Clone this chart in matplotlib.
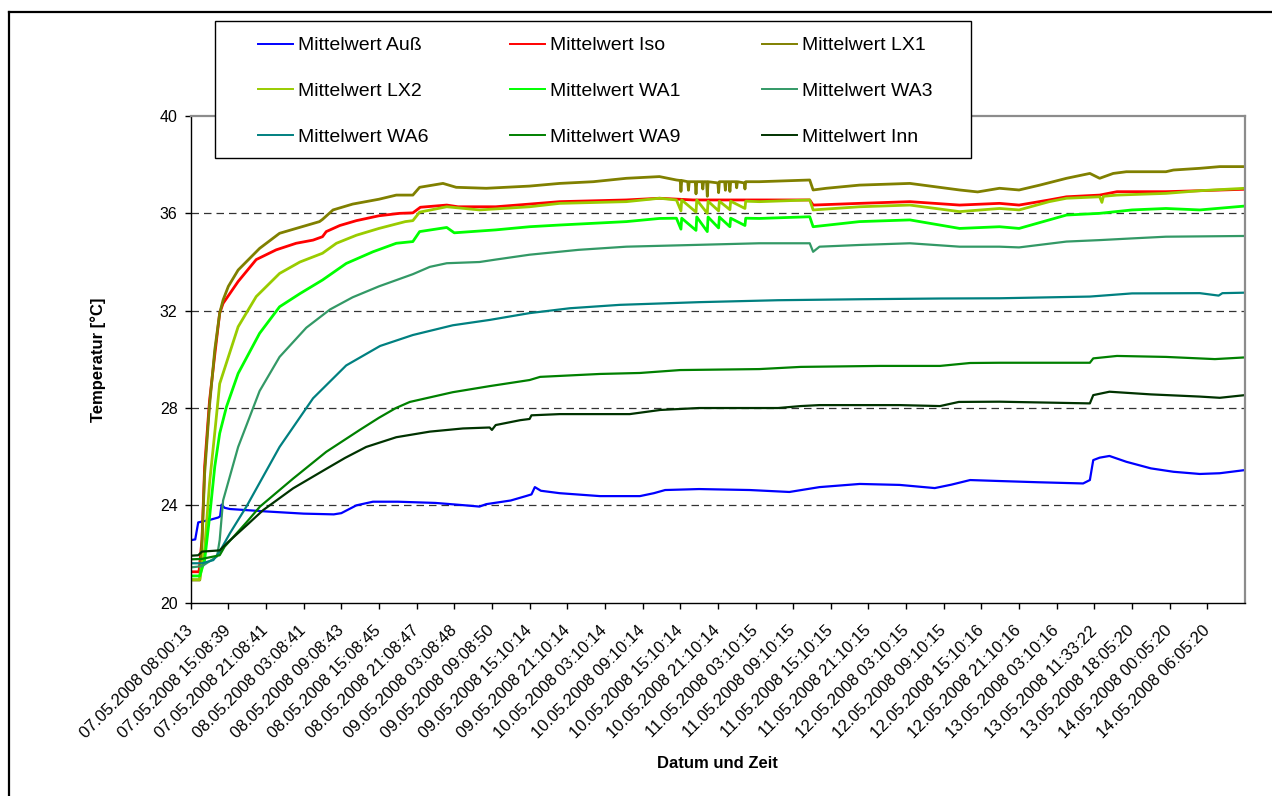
import matplotlib
matplotlib.use("Agg")
import matplotlib.pyplot as plt
from matplotlib.lines import Line2D
from matplotlib.patches import Rectangle
from matplotlib.transforms import ScaledTranslation

plt.rcParams['font.family'] = ['Liberation Sans', 'DejaVu Sans']

# Category axis: one tick per logged sample row label
tick_labels = [
    "07.05.2008 08:00:13", "07.05.2008 15:08:39", "07.05.2008 21:08:41",
    "08.05.2008 03:08:41", "08.05.2008 09:08:43", "08.05.2008 15:08:45",
    "08.05.2008 21:08:47", "09.05.2008 03:08:48", "09.05.2008 09:08:50",
    "09.05.2008 15:10:14", "09.05.2008 21:10:14", "10.05.2008 03:10:14",
    "10.05.2008 09:10:14", "10.05.2008 15:10:14", "10.05.2008 21:10:14",
    "11.05.2008 03:10:15", "11.05.2008 09:10:15", "11.05.2008 15:10:15",
    "11.05.2008 21:10:15", "12.05.2008 03:10:15", "12.05.2008 09:10:15",
    "12.05.2008 15:10:16", "12.05.2008 21:10:16", "13.05.2008 03:10:16",
    "13.05.2008 11:33:22", "13.05.2008 18:05:20", "14.05.2008 00:05:20",
    "14.05.2008 06:05:20",
]

# Mean temperatures [°C]; x in units of label intervals
aus_x = [0, 0.12, 0.2, 0.5, 0.73, 0.78, 0.82, 0.9, 1.04, 2.0, 3.0, 3.8, 4.0, 4.4, 4.84,
         5.5, 6.5, 7.3, 7.67, 7.85, 8.5, 8.9, 9.05, 9.14, 9.3, 9.8, 10.87, 11.93, 12.3,
         12.6, 13.5, 14.85, 15.9, 16.3, 16.7, 17.77, 18.83, 19.76, 20.2, 20.7, 21.48,
         22.5, 23.7, 23.88, 23.93, 23.97, 24.14, 24.4, 24.85, 25.5, 26.1, 26.8, 27.33, 28]
aus_y = [22.57, 22.6, 23.3, 23.4, 23.5, 23.55, 24.03, 23.9, 23.85, 23.75, 23.66, 23.63,
         23.68, 24.0, 24.15, 24.15, 24.1, 24.0, 23.95, 24.05, 24.2, 24.38, 24.45, 24.75,
         24.6, 24.5, 24.38, 24.38, 24.5, 24.63, 24.67, 24.63, 24.55, 24.65, 24.75, 24.88,
         24.84, 24.71, 24.85, 25.04, 25.0, 24.95, 24.9, 25.04, 25.5, 25.86, 25.96, 26.03,
         25.79, 25.52, 25.38, 25.29, 25.32, 25.45]

iso_x = [0, 0.22, 0.3, 0.37, 0.5, 0.64, 0.77, 0.86, 1.26, 1.74, 2.27, 2.8, 3.25, 3.5, 3.6,
         3.96, 4.4, 5.0, 5.55, 5.9, 6.1, 6.8, 7.1, 8.1, 9.0, 9.8, 11.57, 12.45, 13.34, 15.1,
         16.44, 16.53, 17.76, 19.1, 20.42, 21.48, 22.0, 22.8, 23.26, 24.14, 24.6, 25.9,
         26.8, 28]
iso_y = [21.27, 21.27, 22.6, 25.6, 28.3, 30.2, 31.9, 32.3, 33.2, 34.1, 34.5, 34.77, 34.9,
         35.04, 35.25, 35.5, 35.7, 35.9, 36.0, 36.02, 36.25, 36.34, 36.27, 36.27, 36.38,
         36.48, 36.55, 36.62, 36.55, 36.55, 36.55, 36.34, 36.41, 36.48, 36.34, 36.41,
         36.34, 36.55, 36.68, 36.75, 36.89, 36.89, 36.93, 36.99]

lx1_x = [0, 0.24, 0.3, 0.37, 0.5, 0.64, 0.77, 0.86, 1.0, 1.26, 1.83, 2.36, 2.8, 3.42, 3.5,
         3.78, 4.3, 5.0, 5.46, 5.9, 6.08, 6.7, 7.05, 7.85, 9.0, 9.8, 10.69, 11.57, 12.45,
         12.9, 13.0, 13.02, 13.04, 13.2, 13.22, 13.24, 13.4, 13.42, 13.44, 13.58, 13.6,
         13.62, 13.7, 13.72, 13.74, 14.0, 14.02, 14.04, 14.18, 14.2, 14.22, 14.3, 14.32,
         14.34, 14.48, 14.5, 14.52, 14.7, 14.72, 14.74, 15.1, 16.44, 16.53, 16.88, 17.76,
         19.1, 20.42, 20.9, 21.48, 22.0, 22.55, 23.26, 23.88, 24.14, 24.5, 24.85, 25.9,
         26.1, 26.8, 27.33, 28]
lx1_y = [20.93, 20.93, 22.5, 25.3, 28.1, 30.4, 31.9, 32.44, 33.0, 33.67, 34.56, 35.18,
         35.38, 35.66, 35.75, 36.14, 36.38, 36.58, 36.75, 36.75, 37.07, 37.23, 37.07,
         37.03, 37.12, 37.23, 37.3, 37.44, 37.51, 37.37, 37.35, 36.9, 37.35, 37.3, 36.95,
         37.3, 37.3, 36.8, 37.3, 37.3, 37.0, 37.3, 37.3, 36.7, 37.3, 37.25, 36.85, 37.3,
         37.3, 36.95, 37.3, 37.3, 36.9, 37.3, 37.3, 37.05, 37.3, 37.25, 37.0, 37.3, 37.3,
         37.37, 36.96, 37.03, 37.16, 37.23, 36.96, 36.88, 37.03, 36.96, 37.16, 37.44,
         37.64, 37.44, 37.64, 37.71, 37.71, 37.78, 37.85, 37.92, 37.92]

lx2_x = [0, 0.24, 0.37, 0.5, 0.64, 0.77, 1.26, 1.74, 2.36, 2.9, 3.5, 3.87, 4.4, 5.0, 5.7,
         5.9, 6.08, 6.8, 7.67, 9.0, 9.8, 11.57, 12.45, 12.9, 13.02, 13.04, 13.42, 13.44,
         13.72, 13.74, 14.02, 14.04, 14.32, 14.34, 14.72, 14.74, 15.1, 16.44, 16.53, 17.76,
         19.1, 20.42, 21.48, 22.0, 22.8, 23.26, 24.14, 24.2, 24.24, 24.6, 25.9, 26.8, 28]
lx2_y = [20.95, 20.95, 22.2, 24.9, 27.0, 29.0, 31.34, 32.58, 33.53, 34.0, 34.36, 34.77,
         35.1, 35.38, 35.66, 35.7, 36.05, 36.27, 36.14, 36.27, 36.41, 36.48, 36.62, 36.55,
         36.1, 36.55, 36.05, 36.55, 36.0, 36.5, 36.1, 36.5, 36.15, 36.5, 36.2, 36.5,
         36.48, 36.55, 36.14, 36.27, 36.34, 36.07, 36.2, 36.14, 36.48, 36.62, 36.68,
         36.45, 36.7, 36.75, 36.82, 36.93, 37.03]

wa1_x = [0, 0.24, 0.37, 0.5, 0.64, 0.77, 0.95, 1.26, 1.83, 2.36, 2.9, 3.5, 4.13, 4.84,
         5.46, 5.9, 6.08, 6.8, 7.0, 8.1, 9.0, 9.8, 11.57, 12.45, 12.9, 13.02, 13.04, 13.42,
         13.44, 13.72, 13.74, 14.02, 14.04, 14.32, 14.34, 14.72, 14.74, 15.1, 16.44, 16.53,
         17.76, 19.1, 20.42, 21.48, 22.0, 22.8, 23.26, 24.14, 25.0, 25.9, 26.8, 28]
wa1_y = [21.1, 21.1, 21.75, 23.5, 25.6, 26.96, 28.05, 29.42, 31.07, 32.16, 32.7, 33.26,
         33.94, 34.42, 34.77, 34.84, 35.25, 35.42, 35.2, 35.32, 35.45, 35.52, 35.66,
         35.79, 35.8, 35.35, 35.8, 35.3, 35.85, 35.25, 35.85, 35.4, 35.85, 35.45, 35.8,
         35.5, 35.8, 35.79, 35.86, 35.45, 35.66, 35.73, 35.38, 35.45, 35.38, 35.73,
         35.93, 36.0, 36.14, 36.2, 36.14, 36.3]

wa3_x = [0, 0.3, 0.7, 0.77, 0.86, 1.26, 1.83, 2.36, 3.07, 3.7, 4.3, 5.0, 5.9, 6.35, 6.8,
         7.67, 8.1, 9.0, 10.3, 11.57, 13.34, 15.1, 16.44, 16.53, 16.7, 17.76, 19.1, 20.42,
         21.48, 22.0, 23.26, 24.14, 25.0, 25.9, 28]
wa3_y = [21.45, 21.5, 21.9, 22.58, 24.2, 26.4, 28.7, 30.1, 31.3, 32.05, 32.55, 33.0,
         33.5, 33.8, 33.95, 34.0, 34.1, 34.3, 34.5, 34.63, 34.7, 34.77, 34.77, 34.42,
         34.63, 34.7, 34.77, 34.63, 34.63, 34.6, 34.84, 34.9, 34.97, 35.04, 35.07]

wa6_x = [0, 0.3, 0.6, 0.77, 1.04, 1.48, 2.36, 3.25, 4.13, 5.03, 5.9, 6.96, 7.94, 9.0,
         10.07, 11.4, 13.5, 15.6, 17.77, 19.9, 21.48, 23.88, 25.0, 26.8, 27.3, 27.4, 28]
wa6_y = [21.62, 21.62, 21.75, 22.1, 22.85, 23.95, 26.4, 28.4, 29.75, 30.55, 31.0, 31.4,
         31.62, 31.9, 32.1, 32.24, 32.35, 32.43, 32.47, 32.5, 32.51, 32.58, 32.71, 32.72,
         32.62, 32.72, 32.74]

wa9_x = [0, 0.3, 0.77, 0.9, 1.48, 1.84, 2.72, 3.6, 4.49, 5.0, 5.45, 5.82, 6.96, 7.94,
         9.0, 9.28, 10.87, 11.93, 13.0, 15.1, 16.2, 18.3, 19.9, 20.7, 21.48, 23.88, 23.97,
         24.6, 25.9, 27.2, 28]
wa9_y = [21.78, 21.8, 21.95, 22.3, 23.3, 23.95, 25.1, 26.2, 27.1, 27.6, 28.0, 28.25,
         28.65, 28.9, 29.15, 29.28, 29.4, 29.44, 29.56, 29.6, 29.69, 29.73, 29.73, 29.85,
         29.86, 29.86, 30.04, 30.14, 30.1, 30.01, 30.08]

inn_x = [0, 0.2, 0.3, 0.77, 1.0, 1.5, 1.92, 2.72, 3.6, 4.1, 4.66, 5.46, 6.35, 7.23, 7.94,
         8.0, 8.1, 8.75, 9.0, 9.05, 9.8, 11.66, 12.47, 13.5, 15.6, 16.2, 16.7, 18.83,
         19.9, 20.4, 21.48, 23.88, 23.97, 24.4, 25.5, 26.8, 27.33, 28]
inn_y = [21.93, 21.95, 22.1, 22.15, 22.5, 23.2, 23.8, 24.7, 25.5, 25.95, 26.4, 26.8,
         27.03, 27.16, 27.2, 27.1, 27.3, 27.5, 27.55, 27.7, 27.75, 27.75, 27.92, 28.0,
         28.0, 28.08, 28.12, 28.12, 28.08, 28.25, 28.26, 28.19, 28.53, 28.67, 28.56,
         28.47, 28.42, 28.53]

series = [
    ("Mittelwert Auß", "#0000FF", aus_x, aus_y),
    ("Mittelwert Iso", "#FF0000", iso_x, iso_y),
    ("Mittelwert LX1", "#808000", lx1_x, lx1_y),
    ("Mittelwert LX2", "#99CC00", lx2_x, lx2_y),
    ("Mittelwert WA1", "#00FF00", wa1_x, wa1_y),
    ("Mittelwert WA3", "#339966", wa3_x, wa3_y),
    ("Mittelwert WA6", "#008080", wa6_x, wa6_y),
    ("Mittelwert WA9", "#008000", wa9_x, wa9_y),
    ("Mittelwert Inn", "#003300", inn_x, inn_y),
]
# Sensors with a fluctuating signal get a slightly heavier trace
heavy = {"Mittelwert Iso", "Mittelwert LX1", "Mittelwert LX2", "Mittelwert WA1"}

W, H = 1272, 796
fig = plt.figure(figsize=(W / 100, H / 100), dpi=100)
ax = fig.add_axes([190.7 / W, 1 - 602.7 / H, (1245 - 190.7) / W, (602.7 - 116) / H])

for y in (24, 28, 32, 36):
    ax.axhline(y, color="#333333", lw=0.9, linestyle=(0, (6, 4)), zorder=1)

handles = {}
for name, color, xs, ys in series:
    line, = ax.plot(xs, ys, color=color, lw=2.0 if name in heavy else 1.6,
                    solid_joinstyle="round", zorder=2)
    handles[name] = line

ax.set_xlim(0, 28)
ax.set_ylim(20, 40)
ax.set_yticks(range(20, 41, 4))
ax.set_xticks(range(len(tick_labels)))
ax.set_xticklabels(tick_labels, rotation=45, ha="right", va="center",
                   rotation_mode="anchor", fontsize=12)
shift = ScaledTranslation(-6 / 100, 0, fig.dpi_scale_trans)
for lab in ax.get_xticklabels():
    lab.set_transform(lab.get_transform() + shift)
ax.tick_params(axis="y", labelsize=11.5, direction="out", length=4.5, width=1, pad=5)
ax.tick_params(axis="x", direction="out", length=4.5, width=1, pad=14)

for side in ("left", "bottom"):
    ax.spines[side].set_color("#000000")
    ax.spines[side].set_linewidth(1.0)
for side in ("top", "right"):
    ax.spines[side].set_color("#8c8c8c")
    ax.spines[side].set_linewidth(1.6)

ax.set_ylabel("Temperatur [°C]", fontsize=12, fontweight="bold")
ax.yaxis.set_label_coords(-0.08, 0.5)
ax.set_xlabel("Datum und Zeit", fontsize=12, fontweight="bold")
ax.xaxis.set_label_coords(0.5, -0.315)

# Chart border (left and top edges)
fig.add_artist(Line2D([8.7 / W, 8.7 / W], [0, 1 - 12 / H], color="black", lw=1.6,
                      transform=fig.transFigure))
fig.add_artist(Line2D([8.7 / W, 1], [1 - 12 / H, 1 - 12 / H], color="black", lw=1.6,
                      transform=fig.transFigure))

# Legend box with three columns
fig.add_artist(Rectangle((215 / W, 1 - 158 / H), (971 - 215) / W, (158 - 21) / H,
                         transform=fig.transFigure, facecolor="white",
                         edgecolor="black", lw=1.0, zorder=5))
columns = [
    ["Mittelwert Auß", "Mittelwert LX2", "Mittelwert WA6"],
    ["Mittelwert Iso", "Mittelwert WA1", "Mittelwert WA9"],
    ["Mittelwert LX1", "Mittelwert WA3", "Mittelwert Inn"],
]
col_x = [248, 500, 752]
for cx, names in zip(col_x, columns):
    leg = fig.legend([handles[n] for n in names], names, loc="upper left",
                     bbox_to_anchor=(cx / W, 1 - 27 / H), frameon=False, borderpad=0,
                     fontsize=14, handlelength=1.8, handletextpad=0.28,
                     labelspacing=1.45)
    leg.set_zorder(6)
    for lh in leg.get_lines():
        lh.set_linewidth(1.4)

fig.savefig("out.png", dpi=100)
